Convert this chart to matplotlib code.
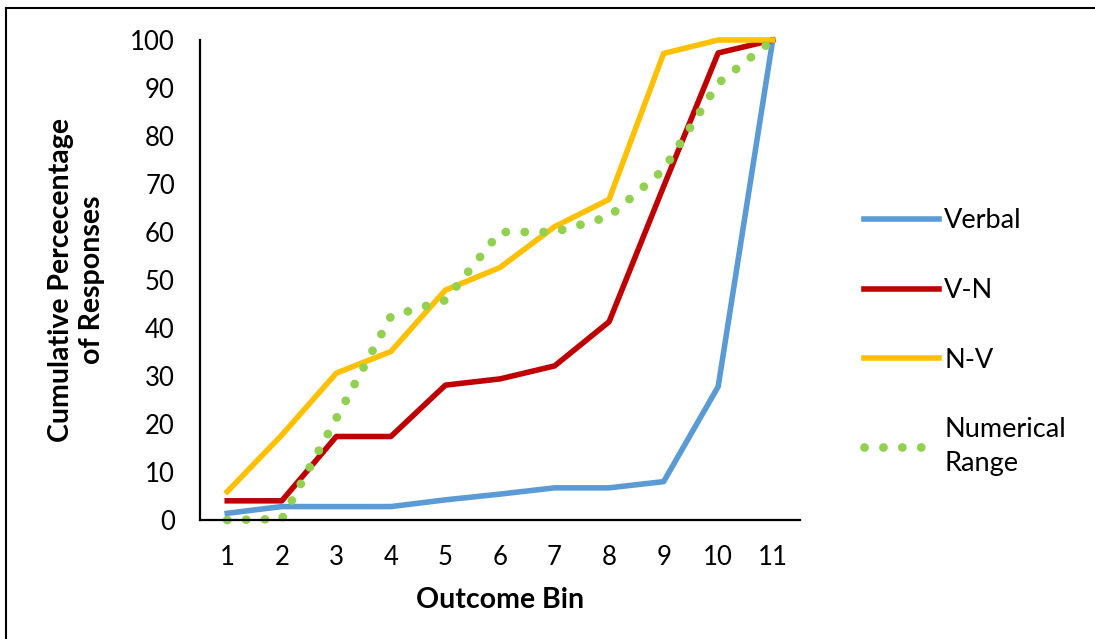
import matplotlib
matplotlib.use("Agg")
import matplotlib.pyplot as plt
from matplotlib.lines import Line2D

plt.rcParams['font.family'] = ['Lato', 'DejaVu Sans']

# Outcome bins and cumulative percentages
bins = [1, 2, 3, 4, 5, 6, 7, 8, 9, 10, 11]
verbal = [1.4, 2.8, 2.8, 2.8, 4.2, 5.4, 6.7, 6.7, 8.0, 27.8, 100]
v_n = [4.0, 4.0, 17.4, 17.4, 28.1, 29.4, 32.1, 41.3, 69.5, 97.3, 100]
n_v = [5.9, 17.7, 30.6, 35.1, 47.9, 52.6, 61.1, 66.8, 97.2, 100, 100]
numerical = [0, 0.2, 21.2, 42.4, 45.8, 60.0, 60.0, 63.2, 73.0, 91.0, 100]

fig = plt.figure(figsize=(10.95, 6.39), dpi=100)
ax = fig.add_axes([0.1826, 0.1862, 0.548, 0.7512])

ax.plot(bins, verbal, color='#5B9BD5', lw=4.0, label='Verbal', clip_on=False)
ax.plot(bins, v_n, color='#C00000', lw=4.0, label='V-N', clip_on=False)
ax.plot(bins, n_v, color='#FFC000', lw=4.0, label='N-V', clip_on=False)
ax.plot(bins, numerical, color='#92D050', lw=6.3, linestyle=(0, (0.01, 2.15)),
        dash_capstyle='round', label='Numerical\nRange', clip_on=False)

ax.set_xlim(0.5, 11.5)
ax.set_ylim(0, 100)
ax.set_xticks(bins)
ax.set_yticks(range(0, 101, 10))
ax.tick_params(length=0, labelsize=18.5, pad=18)
for s in ['top', 'right']:
    ax.spines[s].set_visible(False)
for s in ['left', 'bottom']:
    ax.spines[s].set_linewidth(1.6)

ax.set_xlabel('Outcome Bin', fontsize=20.5, fontweight='bold', labelpad=12)
ax.set_ylabel('Cumulative Percecentage\nof Responses', fontsize=20.5,
              fontweight='bold', labelpad=18, linespacing=1.25)

ax.legend(loc='upper left', bbox_to_anchor=(0.767, 0.712),
          bbox_transform=fig.transFigure, frameon=False, fontsize=19.5,
          handlelength=2.75, handletextpad=0.2, labelspacing=1.65)
for t in ax.get_legend().get_texts():
    t.set_linespacing(1.45)

# outer frame (only left and top edges show)
fig.add_artist(Line2D([0.0055, 0.0055], [0, 0.987], color='black', lw=1.5,
                      transform=fig.transFigure))
fig.add_artist(Line2D([0.0055, 1], [0.987, 0.987], color='black', lw=1.5,
                      transform=fig.transFigure))

fig.savefig('out.png', dpi=100)
